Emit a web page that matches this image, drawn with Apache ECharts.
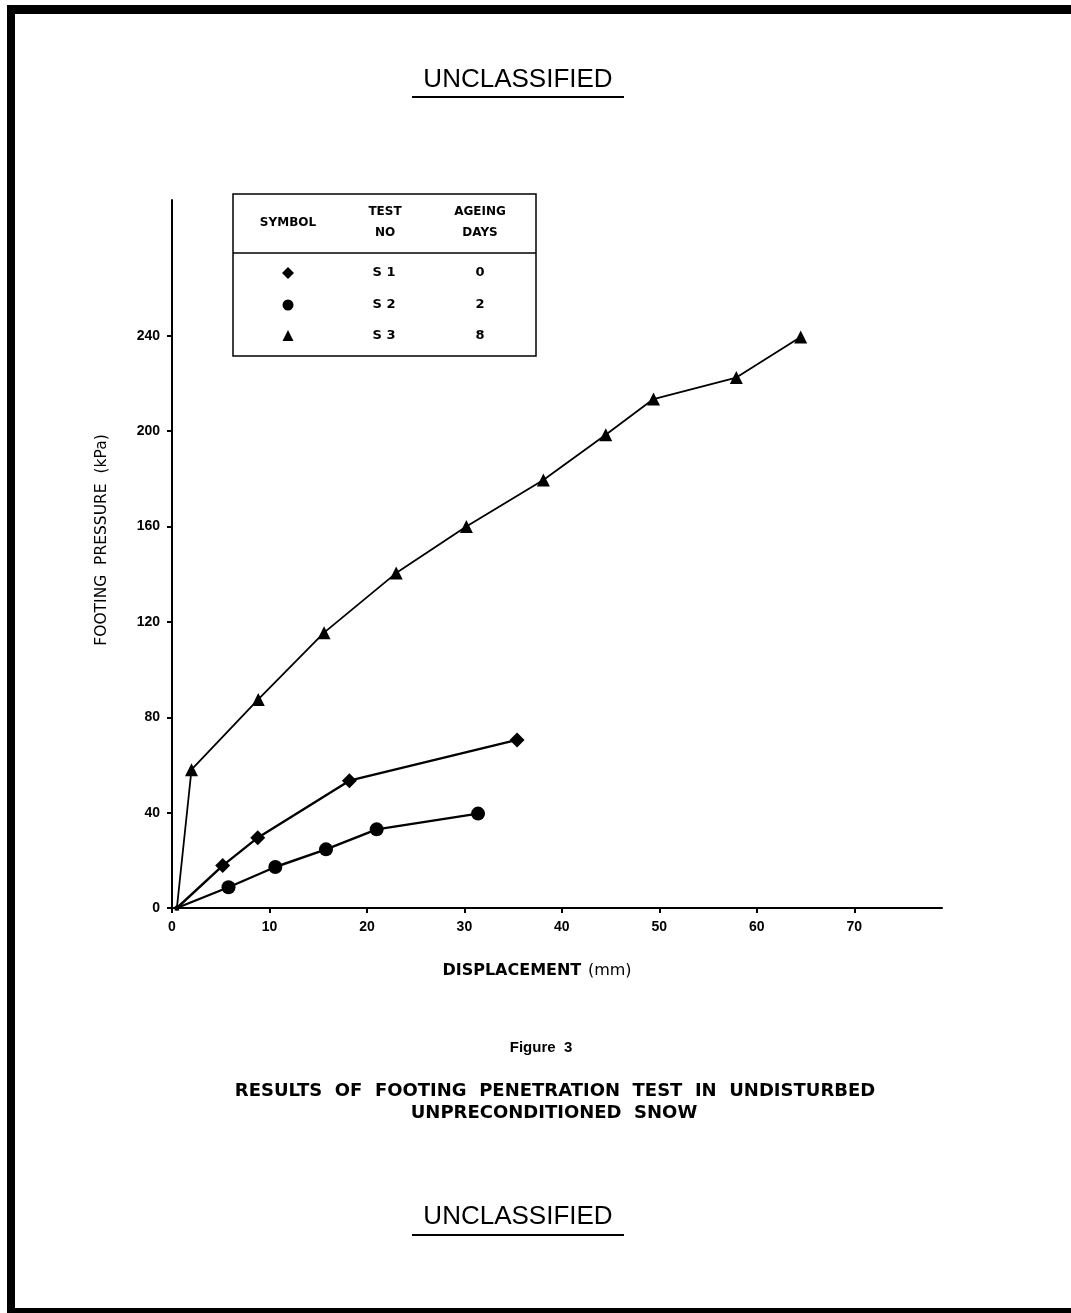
<!DOCTYPE html>
<html>
<head>
<meta charset="utf-8">
<script src="https://cdn.jsdelivr.net/npm/echarts@6/dist/echarts.min.js"></script>
<style>
html,body{margin:0;padding:0;background:#fff;}
#chart{width:1071px;height:1313px;}
</style>
</head>
<body>
<div id="chart"></div>
<script>
// ---- data ----
const s1Name = 'S 1';
const s2Name = 'S 2';
const s3Name = 'S 3';
const s1Days = '0';
const s2Days = '2';
const s3Days = '8';
// displacement (mm), footing pressure (kPa)
const s1Data = [[0.5,0],[5.2,17.8],[8.8,29.5],[18.2,53.4],[35.4,70.5]];
const s2Data = [[0.5,0],[5.8,8.7],[10.6,17.2],[15.8,24.6],[21.0,33.0],[31.4,39.6]];
const s3Data = [[0.5,0],[2.0,58],[8.85,87.5],[15.6,115.5],[23.0,140.5],[30.2,160],[38.1,179.5],[44.5,198.5],[49.4,213.5],[57.9,222.5],[64.5,239.5]];
const xTicks = [0,10,20,30,40,50,60,70];
const yTicks = [0,40,80,120,160,200,240];
const xMax = 79;
const yMax = 297;

const FONT = "'Liberation Sans', Arial, sans-serif";
const WFONT = "'DejaVu Sans', 'Liberation Sans', sans-serif";
const chart = echarts.init(document.getElementById('chart'), null, {renderer:'canvas'});

function sym(size){ return function(v, p){ return p.dataIndex === 0 ? 5 : size; }; }

const legendTop = 194, legendLeft = 233, legendRight = 536, legendBottom = 356;
const rowsY = [273, 305, 336];

const option = {
  backgroundColor: '#fff',
  animation: false,
  grid: {left:172, right:1071-942, top:200, bottom:1313-908, containLabel:false},
  xAxis: {
    type:'value', min:0, max:xMax,
    name:'{b|DISPLACEMENT}  {n|(mm)}',
    nameLocation:'middle', nameGap:55,
    nameTextStyle:{ padding:[0,40,0,0], rich:{
      b:{fontFamily:WFONT, fontWeight:'bold', fontSize:16, color:'#000'},
      n:{fontFamily:WFONT, fontWeight:'normal', fontSize:16, color:'#000'} } },
    axisLine:{show:true, lineStyle:{color:'#000', width:2}},
    axisTick:{show:true, inside:false, length:5, lineStyle:{color:'#000', width:2}, customValues:xTicks},
    axisLabel:{show:true, customValues:xTicks, margin:12, fontFamily:FONT, fontWeight:'bold', fontSize:14, color:'#000'},
    splitLine:{show:false}
  },
  yAxis: {
    type:'value', min:0, max:yMax,
    name:'FOOTING  PRESSURE  (kPa)',
    nameLocation:'middle', nameGap:62, nameRotate:90,
    nameTextStyle:{fontFamily:WFONT, fontSize:15.5, color:'#000', padding:[0,0,0,28]},
    axisLine:{show:true, lineStyle:{color:'#000', width:2}},
    axisTick:{show:true, inside:false, length:5, lineStyle:{color:'#000', width:2}, customValues:yTicks},
    axisLabel:{show:true, customValues:yTicks, margin:12, fontFamily:FONT, fontWeight:'bold', fontSize:14, color:'#000'},
    splitLine:{show:false}
  },
  series: [
    {name:s1Name, type:'line', data:s1Data, symbol:'diamond', symbolSize:sym(15),
      itemStyle:{color:'#000'}, lineStyle:{color:'#000', width:2.4}},
    {name:s2Name, type:'line', data:s2Data, symbol:'circle', symbolSize:sym(14),
      itemStyle:{color:'#000'}, lineStyle:{color:'#000', width:2.4}},
    {name:s3Name, type:'line', data:s3Data, symbol:'triangle', symbolSize:sym(13),
      itemStyle:{color:'#000'}, lineStyle:{color:'#000', width:1.8}}
  ],
  graphic: [
    // page frame
    {type:'rect', shape:{x:7, y:5, width:8, height:1308}, style:{fill:'#000'}},
    {type:'rect', shape:{x:7, y:5, width:1064, height:9}, style:{fill:'#000'}},
    {type:'rect', shape:{x:7, y:1308, width:1064, height:5}, style:{fill:'#000'}},
    // headers
    {type:'text', x:518, y:80, style:{text:'UNCLASSIFIED', font:'26px '+FONT, fill:'#000', align:'center', verticalAlign:'middle'}},
    {type:'rect', shape:{x:412, y:96, width:212, height:2}, style:{fill:'#000'}},
    {type:'text', x:518, y:1217, style:{text:'UNCLASSIFIED', font:'26px '+FONT, fill:'#000', align:'center', verticalAlign:'middle'}},
    {type:'rect', shape:{x:412, y:1234, width:212, height:2}, style:{fill:'#000'}},
    // caption
    {type:'text', x:541, y:1048, style:{text:'Figure  3', font:'bold 15px '+FONT, fill:'#000', align:'center', verticalAlign:'middle'}},
    {type:'text', x:555, y:1091, style:{text:'RESULTS  OF  FOOTING  PENETRATION  TEST  IN  UNDISTURBED', font:'bold 18px '+WFONT, fill:'#000', align:'center', verticalAlign:'middle'}},
    {type:'text', x:554, y:1113, style:{text:'UNPRECONDITIONED  SNOW', font:'bold 18px '+WFONT, fill:'#000', align:'center', verticalAlign:'middle'}},
    // legend table
    {type:'rect', shape:{x:legendLeft, y:legendTop, width:legendRight-legendLeft, height:legendBottom-legendTop}, style:{fill:'#fff', stroke:'#000', lineWidth:1.5}, z:10},
    {type:'line', shape:{x1:legendLeft, y1:253, x2:legendRight, y2:253}, style:{stroke:'#000', lineWidth:1.5}, z:11},
    {type:'text', x:288, y:223, z:11, style:{text:'SYMBOL', font:'bold 12px '+WFONT, fill:'#000', align:'center', verticalAlign:'middle'}},
    {type:'text', x:385, y:212, z:11, style:{text:'TEST', font:'bold 12px '+WFONT, fill:'#000', align:'center', verticalAlign:'middle'}},
    {type:'text', x:385, y:233, z:11, style:{text:'NO', font:'bold 12px '+WFONT, fill:'#000', align:'center', verticalAlign:'middle'}},
    {type:'text', x:480, y:212, z:11, style:{text:'AGEING', font:'bold 12px '+WFONT, fill:'#000', align:'center', verticalAlign:'middle'}},
    {type:'text', x:480, y:233, z:11, style:{text:'DAYS', font:'bold 12px '+WFONT, fill:'#000', align:'center', verticalAlign:'middle'}},
    {type:'polygon', z:11, shape:{points:[[288,rowsY[0]-6],[294,rowsY[0]],[288,rowsY[0]+6],[282,rowsY[0]]]}, style:{fill:'#000'}},
    {type:'circle', z:11, shape:{cx:288, cy:rowsY[1], r:5.5}, style:{fill:'#000'}},
    {type:'polygon', z:11, shape:{points:[[288,rowsY[2]-6],[293.5,rowsY[2]+5],[282.5,rowsY[2]+5]]}, style:{fill:'#000'}},
    {type:'text', x:384, y:rowsY[0], z:11, style:{text:s1Name, font:'bold 13px '+WFONT, fill:'#000', align:'center', verticalAlign:'middle'}},
    {type:'text', x:384, y:rowsY[1], z:11, style:{text:s2Name, font:'bold 13px '+WFONT, fill:'#000', align:'center', verticalAlign:'middle'}},
    {type:'text', x:384, y:rowsY[2], z:11, style:{text:s3Name, font:'bold 13px '+WFONT, fill:'#000', align:'center', verticalAlign:'middle'}},
    {type:'text', x:480, y:rowsY[0], z:11, style:{text:s1Days, font:'bold 13px '+WFONT, fill:'#000', align:'center', verticalAlign:'middle'}},
    {type:'text', x:480, y:rowsY[1], z:11, style:{text:s2Days, font:'bold 13px '+WFONT, fill:'#000', align:'center', verticalAlign:'middle'}},
    {type:'text', x:480, y:rowsY[2], z:11, style:{text:s3Days, font:'bold 13px '+WFONT, fill:'#000', align:'center', verticalAlign:'middle'}}
  ]
};
chart.setOption(option);
</script>
</body>
</html>
